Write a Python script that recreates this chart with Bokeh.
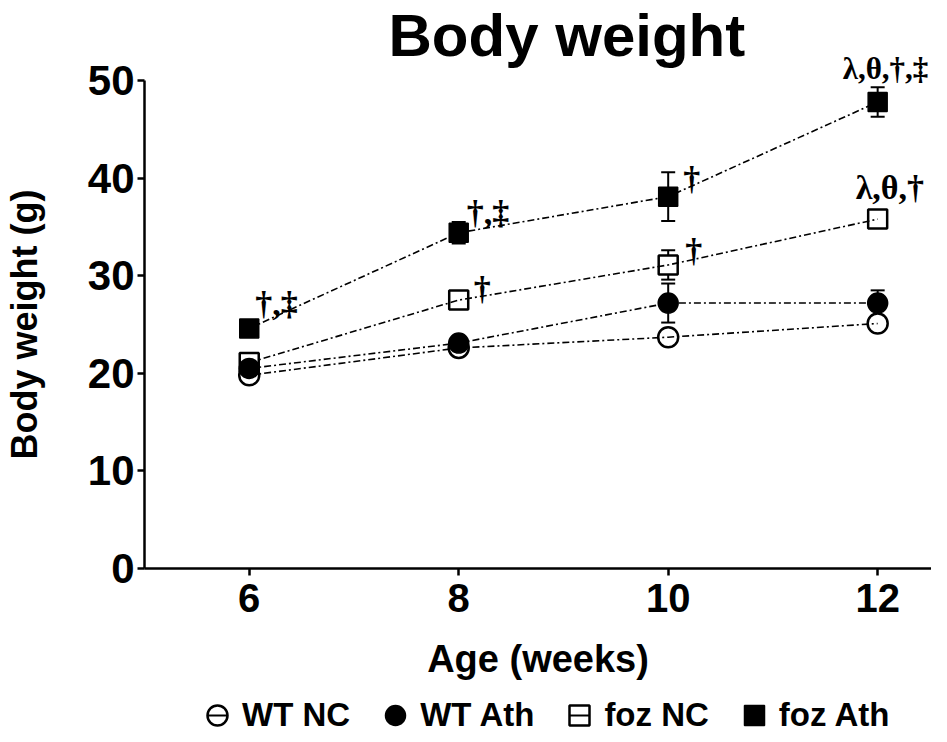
from bokeh.plotting import figure
from bokeh.layouts import column
from bokeh.models import (ColumnDataSource, Whisker, TeeHead, Legend, LegendItem,
                          Range1d, FixedTicker, Label)
from bokeh.embed import file_html
from bokeh.resources import INLINE

# ---------------- data ----------------
weeks = [6, 8, 10, 12]
wt_nc = [19.8, 22.6, 23.7, 25.1]
wt_nc_sem = [0.3, 0.3, 0.4, 0.4]
wt_ath = [20.5, 23.1, 27.2, 27.2]
wt_ath_sem = [0.4, 0.5, 2.0, 1.3]
foz_nc = [21.1, 27.5, 31.1, 35.8]
foz_nc_sem = [0.3, 0.5, 1.5, 0.5]
foz_ath = [24.6, 34.4, 38.1, 47.8]
foz_ath_sem = [0.5, 1.1, 2.5, 1.5]

series_names = ["WT NC", "WT Ath", "foz NC", "foz Ath"]
x_ticks = [6, 8, 10, 12]
y_ticks = [0, 10, 20, 30, 40, 50]
title_text = "Body weight"
x_label = "Age (weeks)"
y_label = "Body weight (g)"

ann_series = ["foz Ath", "foz Ath", "foz NC", "foz Ath", "foz NC", "foz NC", "foz Ath"]
ann_week = [6, 8, 8, 10, 10, 12, 12]
ann_text = ["†,‡", "†,‡", "†", "†", "†", "λ,θ,†", "λ,θ,†,‡"]

# ---------------- styles ----------------
# pixel offsets of annotation text (x right, y up) from its data point
ann_dx = [6, 8, 15, 15, 17, -22, -35]
ann_dy = [25, 20, 12, 18, 14, 32, 33]
ann_size = ["34px", "34px", "34px", "34px", "34px", "34px", "31px"]

SANS = "Liberation Sans"
SERIF = "Liberation Serif"
DASH = "7 3 2 3"
NBSP = "\u00a0"

means = {"WT NC": wt_nc, "WT Ath": wt_ath, "foz NC": foz_nc, "foz Ath": foz_ath}
sems = {"WT NC": wt_nc_sem, "WT Ath": wt_ath_sem, "foz NC": foz_nc_sem, "foz Ath": foz_ath_sem}
marker = {"WT NC": "circle", "WT Ath": "circle", "foz NC": "square", "foz Ath": "square"}
filled = {"WT NC": False, "WT Ath": True, "foz NC": False, "foz Ath": True}
msize = {"WT NC": 20, "WT Ath": 20, "foz NC": 19, "foz Ath": 19}

# frame reaches the top of the canvas so the annotations above 50 are not clipped;
# the y axis line itself is bounded to 0..50
p = figure(width=931, height=696,
           x_range=Range1d(5, 12.514), y_range=Range1d(0, 58.2),
           output_backend="svg", toolbar_location=None,
           min_border_left=142, min_border_top=0, min_border_right=0,
           min_border_bottom=128)
p.outline_line_color = None
p.grid.visible = False
p.background_fill_color = "white"

# axes
for ax in (p.xaxis[0], p.yaxis[0]):
    ax.axis_line_width = 2.5
    ax.axis_line_color = "black"
    ax.major_tick_line_width = 2.5
    ax.major_tick_line_color = "black"
    ax.minor_tick_line_color = None
    ax.major_tick_in = 0
    ax.major_tick_out = 7
    ax.major_label_text_font = SANS
    ax.major_label_text_font_style = "bold"
    ax.major_label_text_color = "black"
    ax.axis_label_text_font = SANS
    ax.axis_label_text_font_style = "bold"
    ax.axis_label_text_color = "black"

p.xaxis.ticker = FixedTicker(ticks=x_ticks)
p.yaxis.ticker = FixedTicker(ticks=y_ticks)
p.yaxis.bounds = (min(y_ticks), max(y_ticks))
p.xaxis.major_label_text_font_size = "40px"
p.yaxis.major_label_text_font_size = "42px"
p.xaxis.major_label_standoff = 8
p.yaxis.major_label_standoff = 3
p.xaxis.axis_label = x_label
# trailing no-break spaces centre the label on the 0..50 axis rather than the taller frame
p.yaxis.axis_label = y_label + NBSP * 8
p.xaxis.axis_label_text_font_size = "38px"
p.yaxis.axis_label_text_font_size = "36px"
p.xaxis.axis_label_standoff = 23
p.yaxis.axis_label_standoff = 40

# title, drawn inside the tall frame
p.add_layout(Label(x=7.33, y=54.57, text=title_text, text_font=SANS,
                   text_font_size="60px", text_font_style="bold", text_color="black",
                   text_baseline="alphabetic", text_align="left"))

# error bars
for name in series_names:
    m = means[name]
    s = sems[name]
    src = ColumnDataSource(dict(x=weeks,
                                upper=[a + b for a, b in zip(m, s)],
                                lower=[a - b for a, b in zip(m, s)]))
    w = Whisker(base="x", upper="upper", lower="lower", source=src,
                line_color="black", line_width=2,
                upper_head=TeeHead(size=14, line_width=2, line_color="black"),
                lower_head=TeeHead(size=14, line_width=2, line_color="black"))
    p.add_layout(w)

for name in series_names:
    if not filled[name]:
        p.scatter(weeks, means[name], marker=marker[name], size=msize[name],
                  fill_color="white", line_color="black", line_width=2.5)
for name in series_names:
    p.line(weeks, means[name], line_color="black", line_width=1.6, line_dash=DASH)
for name in series_names:
    if filled[name]:
        p.scatter(weeks, means[name], marker=marker[name], size=msize[name],
                  fill_color="black", line_color="black", line_width=1.5)

# annotations
ann_y = [means[s][weeks.index(w)] for s, w in zip(ann_series, ann_week)]
for t, xw, yv, dx, dy, fs in zip(ann_text, ann_week, ann_y, ann_dx, ann_dy, ann_size):
    p.add_layout(Label(x=xw, y=yv, text=t, x_offset=dx, y_offset=dy,
                       text_font=SERIF, text_font_size=fs, text_font_style="bold",
                       text_color="black", text_baseline="alphabetic", text_align="left"))

# legend strip below the chart (its renderers sit outside the visible range)
lf = figure(width=931, height=38, output_backend="svg", toolbar_location=None,
            x_range=Range1d(0, 1), y_range=Range1d(0, 1),
            x_axis_location=None, y_axis_location=None, min_border=0)
lf.grid.visible = False
lf.outline_line_color = None
items = []
for name in series_names:
    rends = [lf.scatter(x=[-10], y=[-10], marker=marker[name], size=msize[name],
                        fill_color="black" if filled[name] else "white",
                        line_color="black", line_width=1.5 if filled[name] else 2.5)]
    if not filled[name]:
        rends.append(lf.scatter(x=[-10], y=[-10], marker="dash", size=msize[name],
                                line_color="black", line_width=2))
    items.append(LegendItem(label=name, renderers=rends))
legend = Legend(items=items, orientation="horizontal", location=(48, -6),
                border_line_color=None, background_fill_alpha=0,
                label_text_font=SANS, label_text_font_size="33px",
                label_text_font_style="bold", label_text_color="black",
                glyph_width=50, glyph_height=50, label_standoff=0, spacing=20,
                padding=0, margin=0)
lf.add_layout(legend)

layout = column(p, lf, spacing=0)
open("out.html", "w").write(file_html(layout, INLINE))
